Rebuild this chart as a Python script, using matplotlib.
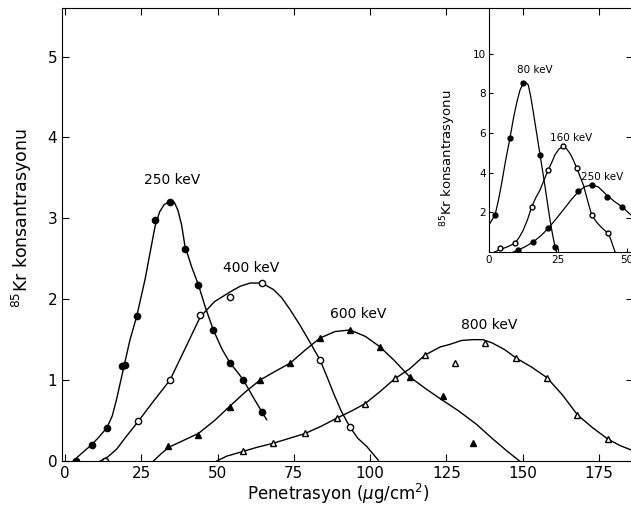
import matplotlib
matplotlib.use("Agg")
import matplotlib.pyplot as plt

# main plot: measured points
e250_x = [3.6, 8.7, 13.7, 18.7, 19.6, 23.5, 29.5, 34.4, 39.3, 43.7, 48.6, 54.1, 58.5, 64.5]
e250_y = [0.0, 0.20, 0.41, 1.17, 1.19, 1.79, 2.98, 3.20, 2.62, 2.18, 1.62, 1.21, 1.00, 0.61]
e400_x = [13.1, 24.0, 34.4, 44.3, 54.1, 64.5, 83.6, 93.4]
e400_y = [0.0, 0.49, 1.00, 1.81, 2.03, 2.20, 1.25, 0.42]
e600_x = [33.9, 43.7, 54.1, 63.9, 73.8, 83.6, 93.4, 103.3, 113.0, 124.0, 133.7]
e600_y = [0.18, 0.32, 0.67, 1.00, 1.21, 1.52, 1.62, 1.41, 1.04, 0.80, 0.22]
e800_x = [58.5, 68.3, 78.7, 89.1, 98.4, 108.2, 118.0, 127.9, 137.7, 148.0, 158.0, 168.0, 178.0]
e800_y = [0.12, 0.22, 0.34, 0.53, 0.71, 1.02, 1.31, 1.21, 1.46, 1.27, 1.03, 0.57, 0.27]

# main plot: the hand-drawn curves, read point by point
c250_x = [2.7, 5, 8.7, 11.2, 13.7, 15.5, 17, 18.3, 19.5, 21.3, 23.5, 26.2, 28, 29.5, 31, 32.5, 34.4,
          35.8, 37, 38.2, 39.3, 41.5, 43.7, 46, 48.6, 51.5, 54.1, 56.5, 58.5, 61.5, 64.5, 66.1]
c250_y = [0.0, 0.08, 0.20, 0.30, 0.41, 0.56, 0.78, 1.00, 1.20, 1.50, 1.79, 2.24, 2.60, 2.90, 3.08, 3.17, 3.21,
          3.20, 3.10, 2.92, 2.66, 2.40, 2.18, 1.90, 1.62, 1.38, 1.21, 1.10, 1.00, 0.80, 0.61, 0.51]
c400_x = [11.5, 14, 17, 20, 24, 29, 34.4, 39.5, 44.3, 49, 54.1, 57.4, 60.7, 64.5, 68.3, 71,
          73.8, 77, 79.8, 83.6, 86, 88, 90.5, 93.4, 96, 98.9, 102.7]
c400_y = [0.0, 0.05, 0.15, 0.30, 0.49, 0.74, 1.00, 1.40, 1.78, 1.97, 2.09, 2.16, 2.20, 2.20, 2.12, 2.02,
          1.87, 1.68, 1.50, 1.25, 1.03, 0.84, 0.62, 0.42, 0.28, 0.18, 0.01]
c600_x = [29, 31.5, 34, 38, 43.7, 49, 54.1, 59, 63.9, 68.5, 73.8, 79, 83.6, 88.5, 93.4, 98.5,
          103.3, 108, 113, 118, 123, 129, 135, 140, 145, 149]
c600_y = [0.0, 0.09, 0.17, 0.24, 0.34, 0.50, 0.68, 0.85, 1.00, 1.10, 1.21, 1.38, 1.52, 1.60, 1.62, 1.54,
          1.41, 1.24, 1.04, 0.90, 0.77, 0.62, 0.45, 0.28, 0.12, 0.0]
c800_x = [49.7, 53, 58.5, 63, 68.3, 73.5, 78.7, 84, 89.1, 94, 98.4, 103, 108.2, 113, 118,
          121, 123, 126, 130, 133.5, 137, 140, 144, 148, 153, 158, 163, 168, 173, 178, 182, 186]
c800_y = [0.0, 0.06, 0.12, 0.17, 0.22, 0.28, 0.34, 0.43, 0.53, 0.62, 0.71, 0.85, 1.02, 1.14, 1.31,
          1.37, 1.41, 1.44, 1.49, 1.50, 1.50, 1.46, 1.38, 1.27, 1.16, 1.03, 0.82, 0.57, 0.41, 0.27, 0.19, 0.13]

# inset
i80_x = [2.2, 7.6, 12.4, 18.5, 23.9]
i80_y = [1.87, 5.74, 8.52, 4.9, 0.27]
i160_x = [4.0, 9.4, 15.5, 21.5, 26.9, 31.8, 37.2, 43.2]
i160_y = [0.18, 0.44, 2.29, 4.14, 5.32, 4.23, 1.87, 0.94]
i250_x = [10.6, 16.1, 21.5, 32.4, 37.2, 42.6, 48.1]
i250_y = [0.10, 0.52, 1.20, 3.05, 3.38, 2.75, 2.29]

ci80_x = [0, 1, 2.2, 3.4, 4.6, 6, 7.6, 8.8, 10, 11.2, 12.4, 13.3, 14.2, 15.1, 16.1, 17.3, 18.5,
          19.4, 20.3, 21.2, 22.1, 23, 23.9, 24.5]
ci80_y = [1.36, 1.6, 1.87, 2.6, 3.47, 4.6, 5.74, 6.7, 7.5, 8.15, 8.52, 8.55, 8.43, 7.85, 7.0, 5.95, 4.9,
          4.1, 3.3, 2.45, 1.62, 0.9, 0.27, 0.0]
ci160_x = [2, 4, 7, 9.4, 11, 12.4, 14, 15.5, 17, 18.5, 20, 21.5, 23, 23.9, 25.4, 26.9, 28.1, 29.3,
           30.5, 31.8, 33, 34.2, 35.7, 37.2, 39, 41, 43.2, 44.2, 45, 45.7]
ci160_y = [0.0, 0.12, 0.28, 0.44, 0.75, 1.1, 1.65, 2.29, 2.75, 3.13, 3.65, 4.14, 4.6, 4.9, 5.2, 5.32,
           5.2, 4.98, 4.65, 4.23, 3.8, 3.38, 2.6, 1.87, 1.5, 1.2, 0.94, 0.6, 0.27, 0.0]
ci250_x = [8.8, 10.6, 13.3, 16.1, 18.8, 21.5, 24.2, 26.9, 29.6, 32.4, 34.8, 37.2, 39.6, 42.6, 45.4,
           48.1, 51.4, 54]
ci250_y = [0.0, 0.1, 0.28, 0.52, 0.82, 1.2, 1.65, 2.12, 2.6, 3.05, 3.3, 3.38, 3.28, 2.88, 2.55,
           2.29, 1.87, 1.55]

fig = plt.figure(figsize=(6.31, 5.05), dpi=100)
# the right part of the original is cut off, so the axes run past the edge
ax = fig.add_axes([62/631, 44/505, 571/631, 453/505])
ax.set_xlim(-1, 186.2)
ax.set_ylim(0, 5.6)

lw = 1.0
ms = 4.5
ax.plot(c250_x, c250_y, color="k", lw=lw)
ax.plot(c400_x, c400_y, color="k", lw=lw)
ax.plot(c600_x, c600_y, color="k", lw=lw)
ax.plot(c800_x, c800_y, color="k", lw=lw)
ax.plot(e250_x, e250_y, "o", color="k", ms=ms, ls="none")
ax.plot(e400_x, e400_y, "o", mfc="white", mec="k", ms=ms, ls="none")
ax.plot(e600_x, e600_y, "^", color="k", ms=ms, ls="none")
ax.plot(e800_x, e800_y, "^", mfc="white", mec="k", ms=ms, ls="none")

ax.text(35, 3.42, "250 keV", ha="center", fontsize=10)
ax.text(61, 2.34, "400 keV", ha="center", fontsize=10)
ax.text(96, 1.77, "600 keV", ha="center", fontsize=10)
ax.text(139, 1.63, "800 keV", ha="center", fontsize=10)

ax.set_xticks([0, 25, 50, 75, 100, 125, 150, 175])
ax.set_yticks([0, 1, 2, 3, 4, 5])
ax.tick_params(direction="in", top=True, right=True, labelsize=11, length=5)
ax.set_xlabel("Penetrasyon ($\\mu$g/cm$^2$)", fontsize=12)
ax.xaxis.set_label_coords((338 - 62) / 571, -0.046)
ax.set_ylabel("$^{85}$Kr konsantrasyonu", fontsize=12.5)
ax.yaxis.set_label_coords(-0.049, (461 - 218) / 453)

# inset
ins = fig.add_axes([489/631, 253/505, 60*2.76/631, 244/505])
ins.set_xlim(0, 60)
ins.set_ylim(0, 12.3)
ins.patch.set_alpha(0)
ins.plot(ci80_x, ci80_y, color="k", lw=0.9)
ins.plot(ci160_x, ci160_y, color="k", lw=0.9)
ins.plot(ci250_x, ci250_y, color="k", lw=0.9)
ins.plot(i80_x, i80_y, "o", color="k", ms=3.5, ls="none")
ins.plot(i160_x, i160_y, "o", mfc="white", mec="k", ms=3.5, ls="none")
ins.plot(i250_x, i250_y, "o", color="k", ms=3.5, ls="none")
ins.text(16.7, 9.0, "80 keV", ha="center", fontsize=7.5)
ins.text(29.7, 5.6, "160 keV", ha="center", fontsize=7.5)
ins.text(33.5, 3.65, "250 keV", ha="left", fontsize=7.5)
ins.set_xticks([0, 25, 50])
ins.set_yticks([2, 4, 6, 8, 10])
ins.tick_params(direction="in", labelsize=7.5, length=3, pad=2)
ins.spines["top"].set_visible(False)
ins.spines["right"].set_visible(False)
ins.set_ylabel("$^{85}$Kr konsantrasyonu", fontsize=9.5)
ins.yaxis.set_label_coords(-0.19, 0.385)

fig.savefig("out.png", dpi=100)
